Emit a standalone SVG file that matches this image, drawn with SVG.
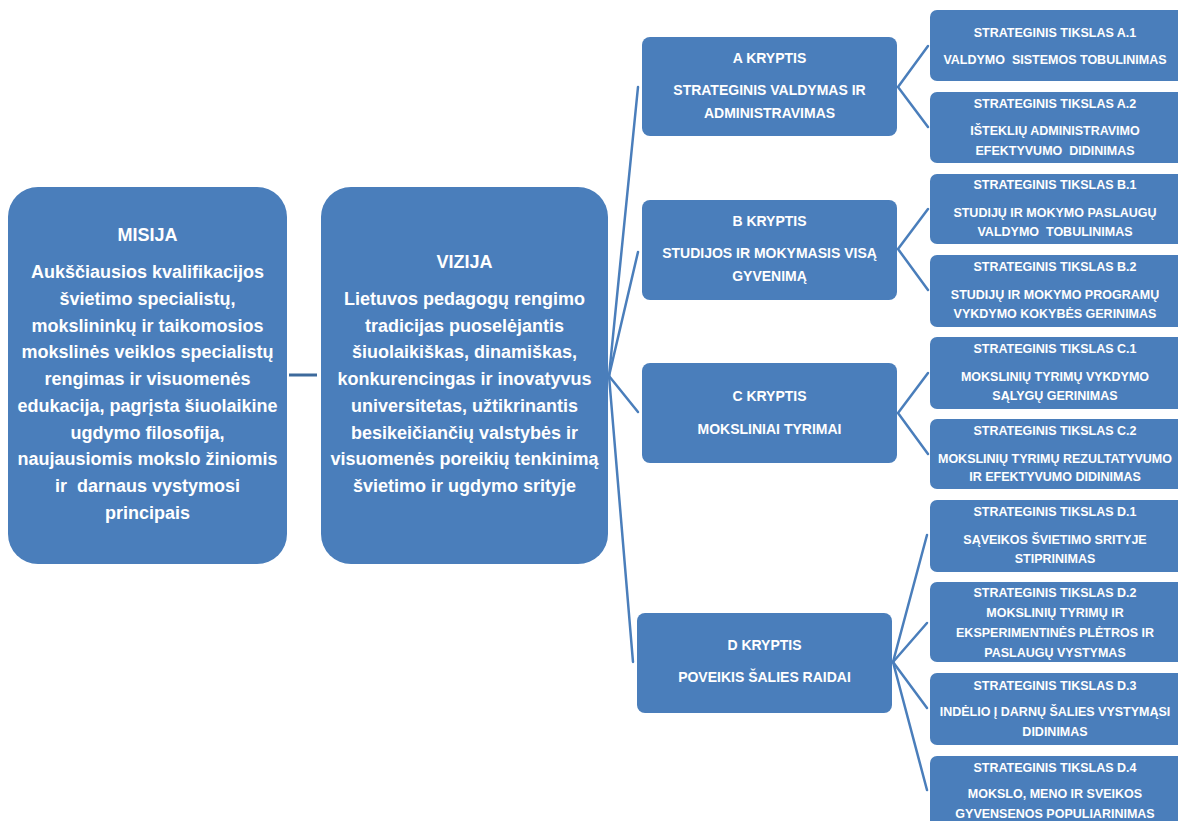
<svg xmlns="http://www.w3.org/2000/svg" width="1178" height="821" viewBox="0 0 1178 821">
<style>
.box{fill:#4a7ebb;}
.t{font-family:"Liberation Sans",Arial,sans-serif;font-weight:bold;fill:#ffffff;text-anchor:middle;}
.big{font-size:18px;}
.mid{font-size:14px;}
.sm{font-size:12.5px;}
.ln{stroke:#4a7ebb;stroke-width:2.5;fill:none;stroke-linecap:round;}
.ln2{stroke:#3d6a9c;stroke-width:3;fill:none;}
</style>
<rect width="1178" height="821" fill="#ffffff"/>
<g id="connectors">
<line class="ln2" x1="289" y1="375" x2="317" y2="375"/>
<line class="ln" x1="609" y1="376" x2="638" y2="87"/>
<line class="ln" x1="609" y1="376" x2="638" y2="252"/>
<line class="ln" x1="609" y1="376" x2="638" y2="412"/>
<line class="ln" x1="609" y1="376" x2="633" y2="662"/>
<polyline class="ln" points="928,46 898,87 928,127"/>
<polyline class="ln" points="928,209 898,249 928,290"/>
<polyline class="ln" points="928,373 898,413 928,454"/>
<line class="ln" x1="893" y1="662" x2="927" y2="535"/>
<line class="ln" x1="893" y1="662" x2="927" y2="623"/>
<line class="ln" x1="893" y1="662" x2="927" y2="708"/>
<line class="ln" x1="893" y1="662" x2="927" y2="790"/>
</g>
<g id="misija">
<rect class="box" x="8" y="187" width="279" height="377" rx="30"/>
<text class="t big" x="147.5" y="241">MISIJA</text>
<text class="t big" x="147.5" y="278">Aukščiausios kvalifikacijos</text>
<text class="t big" x="147.5" y="305">švietimo specialistų,</text>
<text class="t big" x="147.5" y="331.5">mokslininkų ir taikomosios</text>
<text class="t big" x="147.5" y="358">mokslinės veiklos specialistų</text>
<text class="t big" x="147.5" y="385">rengimas ir visuomenės</text>
<text class="t big" x="147.5" y="412">edukacija, pagrįsta šiuolaikine</text>
<text class="t big" x="147.5" y="438.5">ugdymo filosofija,</text>
<text class="t big" x="147.5" y="465">naujausiomis mokslo žiniomis</text>
<text class="t big" x="147.5" y="492" xml:space="preserve">ir  darnaus vystymosi</text>
<text class="t big" x="147.5" y="519">principais</text>
</g>
<g id="vizija">
<rect class="box" x="321" y="187" width="287" height="377" rx="30"/>
<text class="t big" x="464.5" y="268">VIZIJA</text>
<text class="t big" x="464.5" y="305">Lietuvos pedagogų rengimo</text>
<text class="t big" x="464.5" y="331.7">tradicijas puoselėjantis</text>
<text class="t big" x="464.5" y="358.4">šiuolaikiškas, dinamiškas,</text>
<text class="t big" x="464.5" y="385">konkurencingas ir inovatyvus</text>
<text class="t big" x="464.5" y="411.8">universitetas, užtikrinantis</text>
<text class="t big" x="464.5" y="438.5">besikeičiančių valstybės ir</text>
<text class="t big" x="464.5" y="465.2">visuomenės poreikių tenkinimą</text>
<text class="t big" x="464.5" y="492">švietimo ir ugdymo srityje</text>
</g>
<g id="kryptis-a">
<rect class="box" x="642" y="37" width="255" height="99" rx="8"/>
<text class="t mid" x="769.5" y="63">A KRYPTIS</text>
<text class="t mid" x="769.5" y="95">STRATEGINIS VALDYMAS IR</text>
<text class="t mid" x="769.5" y="118">ADMINISTRAVIMAS</text>
</g>
<g id="kryptis-b">
<rect class="box" x="642" y="200" width="255" height="100" rx="8"/>
<text class="t mid" x="769.5" y="226">B KRYPTIS</text>
<text class="t mid" x="769.5" y="258">STUDIJOS IR MOKYMASIS VISĄ</text>
<text class="t mid" x="769.5" y="281">GYVENIMĄ</text>
</g>
<g id="kryptis-c">
<rect class="box" x="642" y="363" width="255" height="100" rx="8"/>
<text class="t mid" x="769.5" y="401">C KRYPTIS</text>
<text class="t mid" x="769.5" y="434">MOKSLINIAI TYRIMAI</text>
</g>
<g id="kryptis-d">
<rect class="box" x="637" y="613" width="255" height="100" rx="8"/>
<text class="t mid" x="764.5" y="650">D KRYPTIS</text>
<text class="t mid" x="764.5" y="682">POVEIKIS ŠALIES RAIDAI</text>
</g>
<g id="tikslas-a1">
<rect class="box" x="930" y="10" width="256" height="71" rx="7"/>
<text class="t sm" x="1055" y="36.5">STRATEGINIS TIKSLAS A.1</text>
<text class="t sm" x="1055" y="63.5" xml:space="preserve">VALDYMO  SISTEMOS TOBULINIMAS</text>
</g>
<g id="tikslas-a2">
<rect class="box" x="930" y="92" width="256" height="71" rx="7"/>
<text class="t sm" x="1055" y="107.5">STRATEGINIS TIKSLAS A.2</text>
<text class="t sm" x="1055" y="134.5">IŠTEKLIŲ ADMINISTRAVIMO</text>
<text class="t sm" x="1055" y="154.5" xml:space="preserve">EFEKTYVUMO  DIDINIMAS</text>
</g>
<g id="tikslas-b1">
<rect class="box" x="930" y="174" width="256" height="70" rx="7"/>
<text class="t sm" x="1055" y="188.5">STRATEGINIS TIKSLAS B.1</text>
<text class="t sm" x="1055" y="216.5">STUDIJŲ IR MOKYMO PASLAUGŲ</text>
<text class="t sm" x="1055" y="235.5" xml:space="preserve">VALDYMO  TOBULINIMAS</text>
</g>
<g id="tikslas-b2">
<rect class="box" x="930" y="255" width="256" height="72" rx="7"/>
<text class="t sm" x="1055" y="270.5">STRATEGINIS TIKSLAS B.2</text>
<text class="t sm" x="1055" y="298.5">STUDIJŲ IR MOKYMO PROGRAMŲ</text>
<text class="t sm" x="1055" y="317.5">VYKDYMO KOKYBĖS GERINIMAS</text>
</g>
<g id="tikslas-c1">
<rect class="box" x="930" y="337" width="256" height="72" rx="7"/>
<text class="t sm" x="1055" y="352.5">STRATEGINIS TIKSLAS C.1</text>
<text class="t sm" x="1055" y="380.5">MOKSLINIŲ TYRIMŲ VYKDYMO</text>
<text class="t sm" x="1055" y="399.5">SĄLYGŲ GERINIMAS</text>
</g>
<g id="tikslas-c2">
<rect class="box" x="930" y="419" width="256" height="70" rx="7"/>
<text class="t sm" x="1055" y="434.5">STRATEGINIS TIKSLAS C.2</text>
<text class="t sm" x="1055" y="462.5">MOKSLINIŲ TYRIMŲ REZULTATYVUMO</text>
<text class="t sm" x="1055" y="480.5">IR EFEKTYVUMO DIDINIMAS</text>
</g>
<g id="tikslas-d1">
<rect class="box" x="930" y="500" width="256" height="72" rx="7"/>
<text class="t sm" x="1055" y="515.5">STRATEGINIS TIKSLAS D.1</text>
<text class="t sm" x="1055" y="543.5">SĄVEIKOS ŠVIETIMO SRITYJE</text>
<text class="t sm" x="1055" y="562.5">STIPRINIMAS</text>
</g>
<g id="tikslas-d2">
<rect class="box" x="930" y="582" width="256" height="80" rx="7"/>
<text class="t sm" x="1055" y="596.5">STRATEGINIS TIKSLAS D.2</text>
<text class="t sm" x="1055" y="616.5">MOKSLINIŲ TYRIMŲ IR</text>
<text class="t sm" x="1055" y="636.5">EKSPERIMENTINĖS PLĖTROS IR</text>
<text class="t sm" x="1055" y="656.5">PASLAUGŲ VYSTYMAS</text>
</g>
<g id="tikslas-d3">
<rect class="box" x="930" y="673" width="256" height="72" rx="7"/>
<text class="t sm" x="1055" y="689.5">STRATEGINIS TIKSLAS D.3</text>
<text class="t sm" x="1055" y="715.5">INDĖLIO Į DARNŲ ŠALIES VYSTYMĄSI</text>
<text class="t sm" x="1055" y="735.5">DIDINIMAS</text>
</g>
<g id="tikslas-d4">
<rect class="box" x="930" y="756" width="256" height="72" rx="7"/>
<text class="t sm" x="1055" y="771.5">STRATEGINIS TIKSLAS D.4</text>
<text class="t sm" x="1055" y="797.5">MOKSLO, MENO IR SVEIKOS</text>
<text class="t sm" x="1055" y="817.5">GYVENSENOS POPULIARINIMAS</text>
</g>
</svg>
